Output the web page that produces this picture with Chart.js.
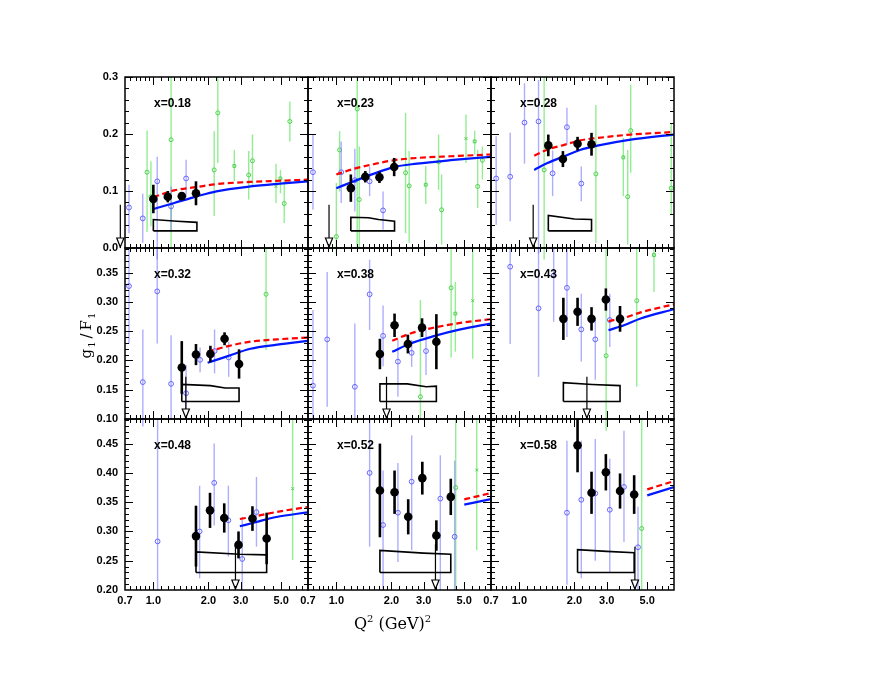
<!DOCTYPE html>
<html><head><meta charset="utf-8">
<script src="https://cdn.jsdelivr.net/npm/chart.js@4.4.1/dist/chart.umd.min.js"></script>
<style>html,body{margin:0;padding:0;background:#fff;}canvas{display:block;}</style>
</head><body>
<canvas id="c" width="896" height="692"></canvas>
<script>
// ---------------- data ----------------
const panelLabels = ['x=0.18','x=0.23','x=0.28','x=0.32','x=0.38','x=0.43','x=0.48','x=0.52','x=0.58'];
const xRange = [0.7, 7.0];
const xTickValues = [0.7, 1.0, 2.0, 3.0, 5.0, 7.0];
const xMajorMarks = [1, 2, 3, 5];
const xMinorMarks = [0.75,0.8,0.85,0.9,0.95,1.1,1.2,1.3,1.4,1.5,1.6,1.7,1.8,1.9,2.2,2.4,2.6,2.8,3.5,4,4.5,5.5,6,6.5];
const yRanges = [[0.0, 0.3], [0.10, 0.392], [0.20, 0.492]];
const yTickValues = [[0.0,0.1,0.2,0.3],[0.10,0.15,0.20,0.25,0.30,0.35],[0.20,0.25,0.30,0.35,0.40,0.45]];
const yTickDecimals = [1, 2, 2];
const yMajorStep = [0.1, 0.05, 0.05];
const yMinorStep = [0.02, 0.01, 0.01];

// black points: [Q2, g1/F1, error]
const blackPts = [
 [[1.00,0.086,0.025],[1.20,0.090,0.010],[1.43,0.091,0.007],[1.71,0.096,0.021]],
 [[1.20,0.105,0.024],[1.44,0.125,0.010],[1.72,0.124,0.010],[2.07,0.142,0.016]],
 [[1.44,0.180,0.019],[1.73,0.156,0.014],[2.08,0.183,0.012],[2.48,0.182,0.020]],
 [[1.43,0.188,0.045],[1.71,0.210,0.018],[2.05,0.211,0.014],[2.45,0.237,0.011],[2.94,0.194,0.025]],
 [[1.73,0.211,0.026],[2.08,0.260,0.020],[2.46,0.228,0.016],[2.94,0.256,0.016],[3.52,0.232,0.047]],
 [[1.74,0.271,0.036],[2.08,0.283,0.024],[2.48,0.271,0.020],[2.97,0.304,0.019],[3.55,0.271,0.022]],
 [[1.71,0.292,0.052],[2.04,0.336,0.030],[2.44,0.323,0.025],[2.92,0.277,0.023],[3.48,0.322,0.021],[4.16,0.288,0.044]],
 [[1.73,0.370,0.080],[2.08,0.367,0.037],[2.47,0.325,0.030],[2.95,0.391,0.028],[3.52,0.293,0.026],[4.22,0.359,0.031]],
 [[2.08,0.447,0.046],[2.48,0.366,0.036],[2.97,0.401,0.031],[3.55,0.369,0.030],[4.24,0.363,0.033]]
];

// blue open points: [Q2, value, low end, high end]
const bluePts = [
 [[0.736,0.071,0.026,0.111],[0.875,0.052,0.009,0.095],[1.05,0.117,-0.02,0.160],[1.25,0.073,0.029,0.108],[1.51,0.122,0.089,0.155]],
 [[0.745,0.133,0.067,0.199],[1.063,0.133,0.079,0.187],[1.262,0.119,0.064,0.174],[1.52,0.117,0.091,0.143],[1.80,0.066,0.032,0.099]],
 [[0.747,0.122,0.041,0.196],[0.891,0.125,0.047,0.202],[1.067,0.220,0.148,0.289],[1.273,0.222,-0.01,0.295],[1.52,0.131,0.091,0.171],[1.82,0.212,0.181,0.246],[2.18,0.113,0.082,0.143]],
 [[0.736,0.327,0.229,0.392],[0.876,0.163,0.087,0.253],[1.05,0.318,0.229,0.392],[1.25,0.160,0.10,0.243],[1.51,0.144,0.10,0.192],[1.80,0.201,0.180,0.222],[2.16,0.216,0.178,0.253],[2.58,0.205,0.172,0.232]],
 [[0.745,0.157,0.10,0.286],[0.891,0.236,0.121,0.351],[1.262,0.155,0.10,0.263],[1.52,0.313,0.252,0.372],[1.80,0.242,0.190,0.294],[2.17,0.198,0.138,0.235],[2.58,0.213,0.189,0.235],[3.09,0.216,0.175,0.252]],
 [[0.891,0.360,0.228,0.392],[1.273,0.289,0.172,0.392],[1.54,0.345,0.266,0.392],[1.82,0.324,0.240,0.392],[2.18,0.253,0.198,0.314],[2.60,0.236,0.167,0.269],[3.12,0.269,0.223,0.314]],
 [[1.055,0.283,0.20,0.492],[1.79,0.300,0.22,0.378],[2.15,0.383,0.31,0.45],[2.57,0.319,0.257,0.378],[3.06,0.253,0.20,0.325],[3.66,0.333,0.274,0.393]],
 [[1.52,0.400,0.274,0.492],[1.80,0.311,0.20,0.404],[2.17,0.332,0.248,0.417],[2.58,0.385,0.268,0.464],[3.70,0.356,0.20,0.43],[4.43,0.291,0.20,0.421]],
 [[1.82,0.332,0.209,0.455],[2.18,0.354,0.22,0.455],[2.60,0.365,0.25,0.458],[3.12,0.337,0.23,0.424],[3.73,0.376,0.282,0.472],[4.45,0.273,0.20,0.342]]
];

// green points: [Q2, value, low end, high end, marker]
const greenPts = [
 [[0.924,0.133,0.028,0.206,'o'],[0.97,0.090,0.038,0.152,'o'],[1.25,0.190,0.0,0.30,'o'],[2.15,0.137,0.056,0.205,'o'],[2.25,0.237,0.149,0.30,'o'],[2.77,0.144,0.117,0.172,'s'],[3.32,0.128,0.085,0.170,'o'],[3.48,0.153,0.108,0.199,'o'],[4.68,0.108,0.079,0.148,'x'],[4.95,0.122,0.096,0.137,'s'],[5.19,0.078,0.044,0.120,'o'],[5.57,0.222,0.187,0.257,'o']],
 [[1.0,0.020,-0.01,0.114,'o'],[1.042,0.172,0.099,0.205,'o'],[1.30,0.244,0.0,0.30,'o'],[1.334,0.085,0.0,0.178,'o'],[2.39,0.132,0.026,0.237,'o'],[2.5,0.109,0.009,0.170,'o'],[3.08,0.111,0.077,0.144,'s'],[3.62,0.151,0.102,0.199,'o'],[3.76,0.067,0.006,0.129,'o'],[5.11,0.192,0.149,0.234,'x'],[5.70,0.187,0.164,0.206,'s'],[5.92,0.108,0.070,0.172,'o'],[6.28,0.154,0.120,0.178,'o']],
 [[1.366,0.137,-0.02,0.30,'o'],[2.62,0.130,0.009,0.251,'o'],[3.70,0.159,0.091,0.193,'s'],[3.91,0.090,0.006,0.172,'o'],[4.06,0.206,0.132,0.287,'o'],[6.76,0.105,0.058,0.219,'o']],
 [[4.13,0.313,0.218,0.392,'o']],
 [[2.88,0.138,0.10,0.303,'o'],[4.24,0.324,0.205,0.392,'o'],[4.47,0.280,0.215,0.334,'s'],[5.56,0.302,0.203,0.392,'x']],
 [[2.98,0.208,0.08,0.392,'o'],[4.38,0.302,0.155,0.392,'o'],[5.44,0.380,0.317,0.392,'s']],
 [[5.77,0.373,0.251,0.492,'x']],
 [[4.49,0.375,0.20,0.492,'o'],[5.85,0.405,0.268,0.492,'x']],
 [[4.66,0.305,0.20,0.492,'o']]
];

// curves: [Q2, value]
const redCurve = [
 [[1.0,0.089],[1.30,0.101],[1.73,0.107],[2.21,0.112],[3.39,0.116],[4.92,0.118],[7.0,0.120]],
 [[1.0,0.129],[1.246,0.139],[1.594,0.147],[2.06,0.154],[2.76,0.158],[4.20,0.161],[7.0,0.164]],
 [[1.206,0.162],[1.425,0.1725],[1.758,0.181],[2.165,0.189],[2.67,0.193],[4.06,0.199],[7.0,0.2035]],
 [[1.98,0.215],[2.53,0.224],[3.39,0.232],[4.75,0.236],[7.0,0.239]],
 [[2.02,0.2335],[2.54,0.246],[3.41,0.256],[4.76,0.264],[7.0,0.2705]],
 [[3.07,0.267],[3.73,0.2727],[4.60,0.282],[7.0,0.296]],
 [[2.97,0.3213],[3.66,0.3264],[4.70,0.3332],[7.0,0.3417]],
 [[5.0,0.3548],[7.0,0.3655]],
 [[5.0,0.3718],[7.0,0.386]]
];
const blueCurve = [
 [[1.0,0.0684],[1.30,0.079],[1.73,0.0906],[2.21,0.0994],[3.39,0.108],[4.92,0.113],[7.0,0.117]],
 [[1.0,0.105],[1.246,0.117],[1.594,0.130],[2.06,0.142],[2.76,0.148],[4.20,0.154],[7.0,0.160]],
 [[1.206,0.137],[1.425,0.149],[1.758,0.161],[2.165,0.1725],[2.67,0.1795],[4.06,0.190],[7.0,0.199]],
 [[1.98,0.196],[2.53,0.207],[3.39,0.220],[4.75,0.227],[7.0,0.2335]],
 [[2.02,0.2148],[2.54,0.229],[3.41,0.2415],[4.76,0.253],[7.0,0.263]],
 [[3.07,0.2517],[3.73,0.260],[4.60,0.2716],[7.0,0.2875]],
 [[2.97,0.3088],[3.66,0.3162],[4.70,0.3247],[7.0,0.3327]],
 [[5.0,0.3457],[7.0,0.3553]],
 [[5.0,0.3616],[7.0,0.3757]]
];

// systematic error bands (closed outlines): [Q2, value]
const sysBand = [
 [[1.0,0.030],[1.0,0.050],[1.35,0.047],[1.73,0.045],[1.73,0.030]],
 [[1.2,0.030],[1.2,0.054],[1.5,0.053],[1.7,0.050],[2.08,0.047],[2.08,0.030]],
 [[1.44,0.030],[1.44,0.057],[2.0,0.051],[2.48,0.050],[2.48,0.030]],
 [[1.43,0.130],[1.43,0.159],[2.05,0.157],[2.47,0.153],[2.94,0.153],[2.94,0.130]],
 [[1.73,0.130],[1.73,0.160],[2.44,0.160],[3.1,0.155],[3.52,0.156],[3.52,0.130]],
 [[1.74,0.130],[1.74,0.162],[2.5,0.159],[3.55,0.157],[3.55,0.130]],
 [[1.71,0.230],[1.71,0.265],[2.97,0.261],[4.16,0.260],[4.16,0.230]],
 [[1.73,0.230],[1.73,0.2675],[3.0,0.263],[4.22,0.261],[4.22,0.230]],
 [[2.08,0.230],[2.08,0.269],[3.0,0.266],[4.24,0.2635],[4.24,0.230]]
];

// arrows: [Q2, top value] (arrow runs down to the axis)
const cutArrow = [[0.66,0.076],[0.912,0.076],[1.19,0.076],[1.505,0.172],[1.88,0.172],[2.34,0.172],[2.81,0.277],[3.48,0.278],[4.28,0.274]];

// ---------------- chart ----------------
const tickFont = {family: '"Liberation Sans", Arial, sans-serif', size: 11, weight: 'bold'};
const xy = a => a.map(d => ({x: d[0], y: d[1]}));
const closed = a => xy(a.concat([a[0]]));

const datasets = [];
for (let p = 0; p < 9; p++) {
  const r = Math.floor(p / 3), c = p % 3;
  const ax = {xAxisID: 'x' + c, yAxisID: 'y' + r};
  const g = greenPts[p], b = bluePts[p], k = blackPts[p];
  datasets.push({...ax, type: 'scatter', order: 5, data: xy(g),
    errLo: g.map(d => d[2]), errHi: g.map(d => d[3]), barColor: 'rgba(120,232,120,0.8)', barWidth: 1.4,
    pointStyle: g.map(d => ({o: 'circle', s: 'rect', x: 'crossRot'})[d[4]]),
    pointRadius: 2, borderColor: '#4fd04f', backgroundColor: 'rgba(255,255,255,0)', borderWidth: 1});
  datasets.push({...ax, type: 'scatter', order: 4, data: xy(b),
    errLo: b.map(d => d[2]), errHi: b.map(d => d[3]), barColor: 'rgba(120,120,255,0.6)', barWidth: 1.4,
    pointStyle: 'circle', pointRadius: 2.4, borderColor: '#6464ff', backgroundColor: 'rgba(255,255,255,0)', borderWidth: 1});
  datasets.push({...ax, type: 'line', order: 3, data: closed(sysBand[p]), borderColor: '#000', borderWidth: 1.6,
    pointRadius: 0, tension: 0, fill: false});
  datasets.push({...ax, type: 'line', order: 3, clip: false, arrow: true,
    data: [{x: cutArrow[p][0], y: cutArrow[p][1]}, {x: cutArrow[p][0], y: yRanges[r][0]}],
    borderColor: '#000', borderWidth: 1.2, pointRadius: 0, tension: 0, fill: false});
  datasets.push({...ax, type: 'line', order: 2, data: xy(blueCurve[p]), borderColor: '#0018ff', borderWidth: 2.2,
    pointRadius: 0, cubicInterpolationMode: 'monotone', fill: false});
  datasets.push({...ax, type: 'line', order: 2, data: xy(redCurve[p]), borderColor: '#ff0000', borderWidth: 2.2,
    borderDash: [6, 3.5], pointRadius: 0, cubicInterpolationMode: 'monotone', fill: false});
  datasets.push({...ax, type: 'scatter', order: 1, data: xy(k),
    errLo: k.map(d => d[1] - d[2]), errHi: k.map(d => d[1] + d[2]), barColor: '#000', barWidth: 2.6,
    pointStyle: 'circle', pointRadius: 4.3, borderColor: '#000', backgroundColor: '#000', borderWidth: 0});
}

const scales = {};
for (let c = 0; c < 3; c++) {
  scales['x' + c] = {
    type: 'logarithmic', position: 'bottom', stack: 'cols', stackWeight: 1,
    min: xRange[0], max: xRange[1],
    grid: {display: false, drawTicks: false}, border: {display: false},
    ticks: {autoSkip: false, maxRotation: 0, minRotation: 0, padding: 4, font: tickFont, color: '#000',
      callback: v => (v > 6.9 ? '' : Number(v).toFixed(1))},
    afterBuildTicks: s => { s.ticks = xTickValues.map(v => ({value: v})); },
    afterFit: s => { s.height = 25; }
  };
}
for (let r = 0; r < 3; r++) {
  scales['y' + r] = {
    type: 'linear', position: 'left', stack: 'rows', stackWeight: 1, weight: 3 - r,
    min: yRanges[r][0], max: yRanges[r][1],
    grid: {display: false, drawTicks: false}, border: {display: false},
    ticks: {autoSkip: false, padding: 7, font: tickFont, color: '#000',
      callback: v => Number(v).toFixed(yTickDecimals[r])},
    afterBuildTicks: s => { s.ticks = yTickValues[r].map(v => ({value: v})); },
    afterFit: s => { s.width = 45; }
  };
}

const errorBars = {
  id: 'errorBars',
  beforeDatasetDraw(chart, args) {
    const ds = chart.data.datasets[args.index];
    if (!ds.errLo) return;
    const meta = args.meta, ys = chart.scales[ds.yAxisID], ctx = chart.ctx, a = chart.chartArea;
    ctx.save();
    ctx.beginPath(); ctx.rect(a.left, a.top, a.right - a.left, a.bottom - a.top); ctx.clip();
    ctx.strokeStyle = ds.barColor; ctx.lineWidth = ds.barWidth; ctx.lineCap = 'butt';
    meta.data.forEach((el, i) => {
      ctx.beginPath();
      ctx.moveTo(el.x, ys.getPixelForValue(ds.errLo[i]));
      ctx.lineTo(el.x, ys.getPixelForValue(ds.errHi[i]));
      ctx.stroke();
    });
    ctx.restore();
  },
  afterDatasetDraw(chart, args) {
    const ds = chart.data.datasets[args.index];
    if (!ds.arrow) return;
    const el = args.meta.data[1], ctx = chart.ctx;
    ctx.save();
    ctx.beginPath();
    ctx.moveTo(el.x, el.y - 1);
    ctx.lineTo(el.x - 3.6, el.y - 10);
    ctx.lineTo(el.x + 3.6, el.y - 10);
    ctx.closePath();
    ctx.fillStyle = '#fff'; ctx.fill();
    ctx.strokeStyle = '#000'; ctx.lineWidth = 1.2; ctx.stroke();
    ctx.restore();
  }
};

function richText(ctx, parts, x, y, align) {
  let w = 0;
  parts.forEach(p => { ctx.font = p.font; w += ctx.measureText(p.t).width + (p.gap || 0); });
  let cx = align === 'center' ? x - w / 2 : x;
  parts.forEach(p => { ctx.font = p.font; ctx.fillText(p.t, cx, y + (p.dy || 0)); cx += ctx.measureText(p.t).width + (p.gap || 0); });
}

const panels = {
  id: 'panels',
  afterDatasetsDraw(chart) {
    const ctx = chart.ctx;
    ctx.save();
    for (let r = 0; r < 3; r++) {
      for (let c = 0; c < 3; c++) {
        const xs = chart.scales['x' + c], ys = chart.scales['y' + r];
        const L = xs.left, R = xs.right, T = ys.top, B = ys.bottom;
        ctx.strokeStyle = '#000'; ctx.lineWidth = 1.5;
        ctx.strokeRect(L, T, R - L, B - T);
        ctx.lineWidth = 1;
        ctx.beginPath();
        const xm = (vals, len) => vals.forEach(v => {
          const px = Math.round(xs.getPixelForValue(v)) + 0.5;
          ctx.moveTo(px, B); ctx.lineTo(px, B - len);
          ctx.moveTo(px, T); ctx.lineTo(px, T + len);
        });
        xm(xMinorMarks, 4); xm(xMajorMarks, 8);
        const lo = yRanges[r][0], hi = yRanges[r][1];
        const n = Math.round((hi - lo) / yMinorStep[r]);
        for (let i = 1; i <= n; i++) {
          const v = lo + i * yMinorStep[r];
          if (v > hi + 1e-9) break;
          const isMajor = Math.abs(v / yMajorStep[r] - Math.round(v / yMajorStep[r])) < 1e-6;
          const len = isMajor ? 8 : 4;
          const py = Math.round(ys.getPixelForValue(v)) + 0.5;
          ctx.moveTo(L, py); ctx.lineTo(L + len, py);
          ctx.moveTo(R, py); ctx.lineTo(R - len, py);
        }
        ctx.stroke();
        ctx.fillStyle = '#000';
        ctx.font = 'bold 12px "Liberation Sans", Arial, sans-serif';
        ctx.textAlign = 'left'; ctx.textBaseline = 'middle';
        ctx.fillText(panelLabels[r * 3 + c], L + 29, T + 27);
      }
    }
    ctx.restore();
  },
  afterDraw(chart) {
    const ctx = chart.ctx, a = chart.chartArea;
    ctx.save();
    ctx.fillStyle = '#000'; ctx.textBaseline = 'alphabetic'; ctx.textAlign = 'left';
    const big = '16px "DejaVu Serif", serif', sm = '10px "DejaVu Serif", serif';
    richText(ctx, [{t: 'Q', font: big}, {t: '2', font: sm, dy: -7}, {t: ' (GeV)', font: big}, {t: '2', font: sm, dy: -7}],
      (a.left + a.right) / 2 - 7, a.bottom + 39, 'center');
    ctx.translate(a.left - 34, (a.top + a.bottom) / 2 + 2);
    ctx.rotate(-Math.PI / 2);
    const f2 = '15px "DejaVu Serif", serif', s2 = '10px "DejaVu Serif", serif';
    richText(ctx, [{t: 'g', font: f2, gap: 1}, {t: '1', font: s2, dy: 4, gap: 3}, {t: '/', font: f2, gap: 3}, {t: 'F', font: f2, gap: 1}, {t: '1', font: s2, dy: 4}],
      0, 0, 'center');
    ctx.restore();
  }
};

new Chart(document.getElementById('c').getContext('2d'), {
  type: 'scatter',
  data: {datasets},
  options: {
    responsive: false, animation: false, devicePixelRatio: 1,
    layout: {padding: {left: 80, right: 222, top: 77, bottom: 77}},
    plugins: {legend: {display: false}, tooltip: {enabled: false}, title: {display: false}},
    scales
  },
  plugins: [errorBars, panels]
});
</script>
</body></html>
